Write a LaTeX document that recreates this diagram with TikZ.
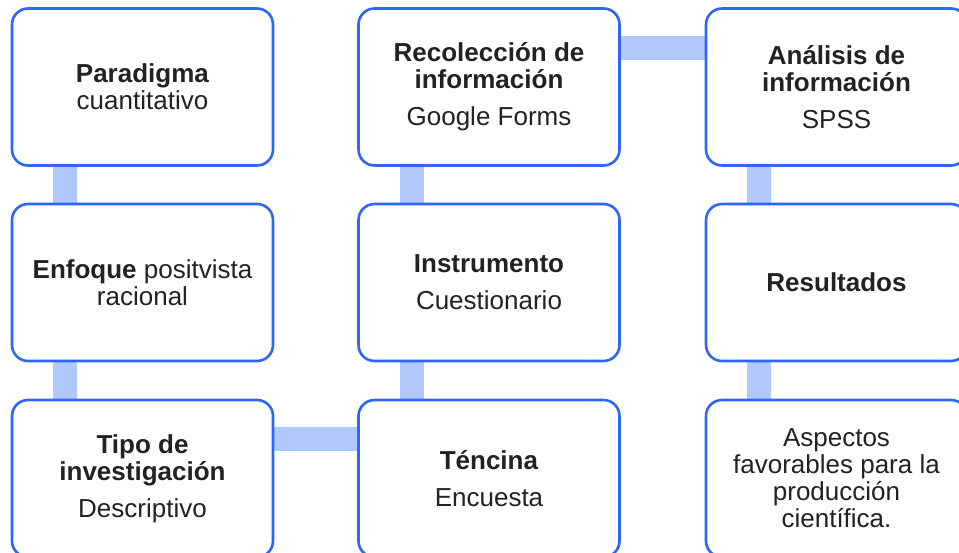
\documentclass[tikz,border=0pt]{standalone}
\usepackage{fontspec}
\setmainfont{Liberation Sans}
\usetikzlibrary{backgrounds,calc}
\definecolor{bordc}{RGB}{46,103,246}
\definecolor{linkc}{RGB}{176,201,250}
\definecolor{txtc}{RGB}{34,34,34}
\begin{document}
\begin{tikzpicture}[x=1pt,y=-1pt,
  box/.style={draw=bordc, line width=2.6pt, rounded corners=16pt, fill=white,
    minimum width=261pt, minimum height=157pt, anchor=north west, inner sep=0pt,
    outer sep=0pt, align=center, text=txtc, font=\fontsize{26}{27}\selectfont},
  link/.style={draw=linkc, line width=24pt}]
\useasboundingbox (0,0) rectangle (959,552);
% column 1
\node[box] (par) at (12,8.5) {\textbf{Paradigma}\\cuantitativo};
\node[box] (enf) at (12,204) {\textbf{Enfoque} positvista\\racional};
\node[box] (tip) at (12,400) {\textbf{Tipo de}\\\textbf{investigación}\\[10pt]Descriptivo};
% column 2
\node[box] (rec) at (358.5,8.5) {\textbf{Recolección de}\\\textbf{información}\\[10pt]Google Forms};
\node[box] (ins) at (358.5,204) {\textbf{Instrumento}\\[10pt]Cuestionario};
\node[box] (tec) at (358.5,400) {\textbf{Téncina}\\[10pt]Encuesta};
% column 3
\node[box] (ana) at (706,8.5) {\textbf{Análisis de}\\\textbf{información}\\[10pt]SPSS};
\node[box] (res) at (706,204) {\textbf{Resultados}};
\node[box] (asp) at (706,400) {Aspectos\\favorables para la\\producción\\científica.};
% connectors
\begin{scope}[on background layer]
\draw[link] ($(par.south west)+(53,0)$) -- ($(enf.north west)+(53,0)$);
\draw[link] ($(enf.south west)+(53,0)$) -- ($(tip.north west)+(53,0)$);
\draw[link] ($(tip.north east)+(0,39)$) -- ($(tec.north west)+(0,39)$);
\draw[link] ($(tec.north west)+(53,0)$) -- ($(ins.south west)+(53,0)$);
\draw[link] ($(ins.north west)+(53,0)$) -- ($(rec.south west)+(53,0)$);
\draw[link] ($(rec.north east)+(0,39)$) -- ($(ana.north west)+(0,39)$);
\draw[link] ($(ana.south west)+(53,0)$) -- ($(res.north west)+(53,0)$);
\draw[link] ($(res.south west)+(53,0)$) -- ($(asp.north west)+(53,0)$);
\end{scope}
\end{tikzpicture}
\end{document}
